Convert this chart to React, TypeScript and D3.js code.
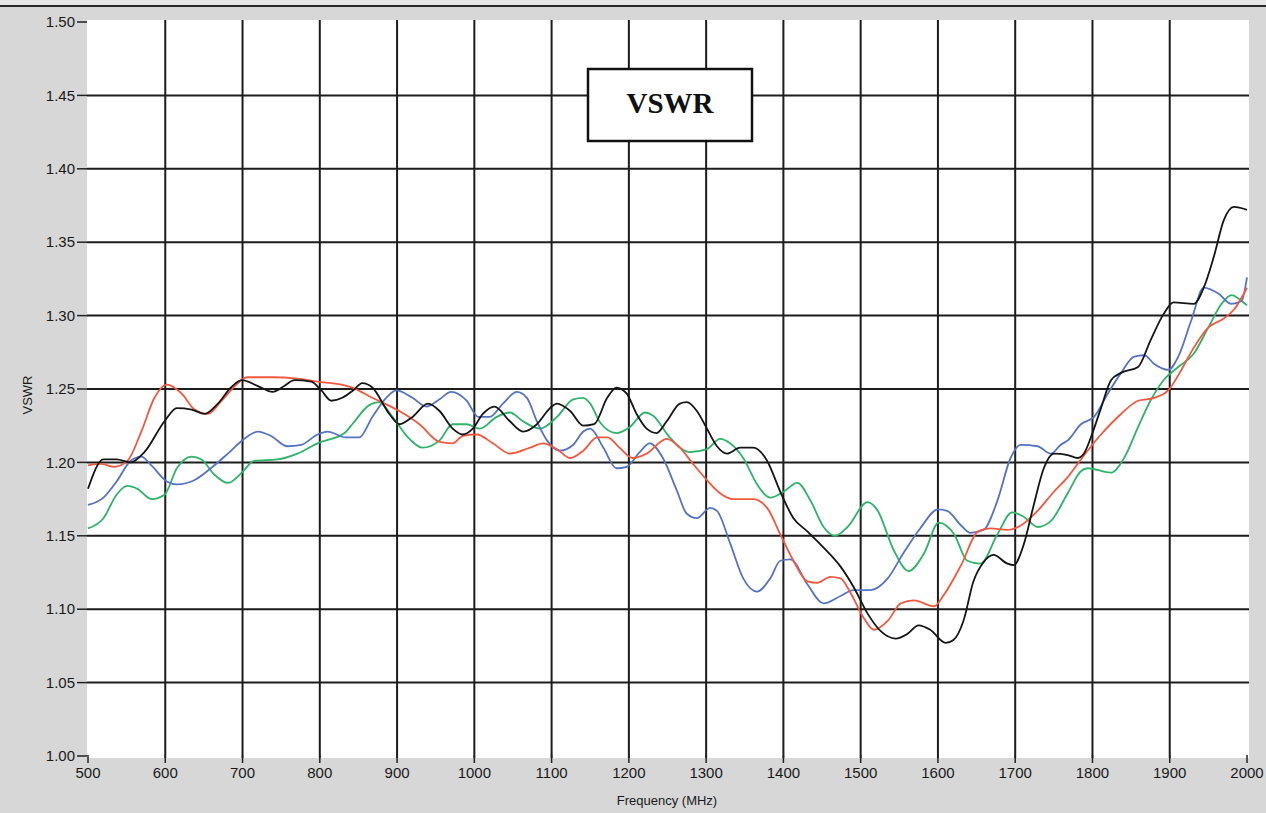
import React from "react";
import * as d3 from "d3";

const xTicks = [500, 600, 700, 800, 900, 1000, 1100, 1200, 1300, 1400, 1500, 1600, 1700, 1800, 1900, 2000];
const yTicks = [1.0, 1.05, 1.1, 1.15, 1.2, 1.25, 1.3, 1.35, 1.4, 1.45, 1.5];

const blackSeries: [number, number][] = [
  [500,1.182],[520,1.202],[537,1.202],[555,1.200],[573,1.207],[599,1.228],[615,1.237],[634,1.236],[651,1.233],[668,1.240],[685,1.251],[699,1.256],[720,1.252],[739,1.248],[754,1.252],[767,1.256],[789,1.255],[802,1.249],[815,1.242],[829,1.244],[843,1.249],[855,1.254],[868,1.251],[890,1.233],[903,1.226],[920,1.231],[940,1.240],[955,1.235],[972,1.223],[985,1.219],[998,1.223],[1011,1.233],[1026,1.238],[1046,1.228],[1063,1.221],[1081,1.226],[1098,1.237],[1107,1.240],[1124,1.235],[1141,1.225],[1155,1.226],[1172,1.244],[1184,1.251],[1197,1.247],[1210,1.233],[1223,1.223],[1236,1.220],[1249,1.228],[1266,1.240],[1275,1.241],[1288,1.235],[1301,1.223],[1314,1.211],[1327,1.206],[1344,1.210],[1361,1.210],[1379,1.201],[1396,1.180],[1413,1.162],[1431,1.153],[1452,1.142],[1474,1.129],[1491,1.115],[1509,1.097],[1526,1.085],[1545,1.080],[1560,1.083],[1575,1.089],[1590,1.086],[1610,1.077],[1620,1.079],[1633,1.092],[1646,1.119],[1659,1.132],[1672,1.137],[1690,1.131],[1698,1.130],[1711,1.144],[1724,1.171],[1737,1.196],[1750,1.206],[1768,1.205],[1781,1.203],[1789,1.206],[1800,1.220],[1811,1.237],[1824,1.256],[1837,1.261],[1859,1.265],[1875,1.283],[1892,1.301],[1905,1.309],[1931,1.308],[1944,1.319],[1957,1.340],[1970,1.365],[1983,1.374],[2000,1.372]
];

const redSeries: [number, number][] = [
  [500,1.198],[517,1.199],[534,1.197],[551,1.201],[569,1.221],[586,1.244],[602,1.253],[621,1.247],[638,1.236],[655,1.233],[673,1.242],[690,1.252],[706,1.258],[737,1.258],[771,1.257],[797,1.255],[828,1.253],[842,1.251],[868,1.244],[903,1.235],[929,1.226],[955,1.214],[972,1.213],[985,1.218],[1003,1.219],[1024,1.213],[1046,1.206],[1072,1.210],[1089,1.213],[1107,1.209],[1124,1.203],[1141,1.208],[1159,1.217],[1172,1.217],[1188,1.210],[1205,1.203],[1223,1.206],[1249,1.216],[1266,1.210],[1283,1.199],[1301,1.188],[1318,1.179],[1335,1.175],[1361,1.175],[1379,1.169],[1396,1.151],[1413,1.133],[1431,1.119],[1444,1.118],[1461,1.122],[1474,1.121],[1487,1.111],[1504,1.094],[1517,1.086],[1535,1.092],[1552,1.104],[1569,1.106],[1595,1.102],[1608,1.110],[1630,1.130],[1652,1.153],[1668,1.155],[1690,1.154],[1707,1.157],[1729,1.167],[1750,1.180],[1768,1.190],[1785,1.202],[1811,1.219],[1837,1.233],[1859,1.242],[1880,1.244],[1898,1.249],[1915,1.263],[1931,1.278],[1950,1.292],[1970,1.298],[1983,1.304],[2000,1.319]
];

const blueSeries: [number, number][] = [
  [500,1.171],[520,1.176],[537,1.187],[555,1.201],[569,1.204],[582,1.198],[602,1.187],[615,1.185],[638,1.188],[659,1.196],[681,1.206],[702,1.216],[720,1.221],[737,1.218],[758,1.211],[776,1.212],[797,1.219],[810,1.221],[834,1.217],[851,1.217],[868,1.231],[886,1.244],[899,1.249],[920,1.244],[938,1.238],[955,1.243],[970,1.248],[990,1.242],[1005,1.231],[1020,1.231],[1037,1.240],[1055,1.248],[1068,1.244],[1081,1.228],[1094,1.215],[1111,1.208],[1128,1.212],[1141,1.221],[1150,1.223],[1167,1.210],[1184,1.196],[1197,1.197],[1214,1.207],[1227,1.213],[1244,1.203],[1262,1.181],[1275,1.165],[1288,1.162],[1305,1.169],[1314,1.167],[1331,1.145],[1348,1.121],[1366,1.112],[1383,1.121],[1396,1.133],[1409,1.134],[1431,1.117],[1452,1.104],[1474,1.109],[1491,1.113],[1513,1.113],[1535,1.121],[1555,1.138],[1577,1.155],[1600,1.168],[1612,1.167],[1630,1.157],[1642,1.152],[1659,1.154],[1677,1.174],[1694,1.203],[1707,1.212],[1729,1.211],[1746,1.206],[1759,1.212],[1768,1.215],[1785,1.226],[1802,1.231],[1820,1.247],[1837,1.261],[1854,1.272],[1867,1.273],[1880,1.267],[1898,1.263],[1911,1.272],[1928,1.297],[1944,1.319],[1963,1.315],[1980,1.308],[1993,1.310],[2000,1.326]
];

const greenSeries: [number, number][] = [
  [500,1.155],[520,1.162],[537,1.178],[551,1.184],[564,1.182],[582,1.175],[599,1.178],[615,1.196],[634,1.204],[647,1.202],[663,1.192],[681,1.186],[699,1.193],[715,1.201],[745,1.202],[771,1.206],[797,1.213],[832,1.220],[842,1.226],[864,1.239],[877,1.241],[894,1.231],[916,1.216],[933,1.210],[955,1.215],[972,1.226],[990,1.226],[1007,1.223],[1029,1.231],[1046,1.234],[1063,1.228],[1085,1.223],[1107,1.231],[1128,1.243],[1141,1.244],[1150,1.240],[1163,1.227],[1184,1.220],[1201,1.224],[1221,1.234],[1231,1.232],[1253,1.217],[1279,1.207],[1301,1.209],[1318,1.216],[1331,1.213],[1348,1.203],[1366,1.185],[1383,1.176],[1400,1.180],[1418,1.186],[1435,1.174],[1452,1.156],[1467,1.150],[1483,1.156],[1509,1.173],[1521,1.168],[1543,1.140],[1562,1.126],[1582,1.138],[1601,1.159],[1621,1.151],[1638,1.133],[1655,1.131],[1677,1.151],[1696,1.166],[1711,1.163],[1729,1.156],[1746,1.160],[1768,1.179],[1785,1.194],[1794,1.196],[1824,1.193],[1841,1.203],[1859,1.224],[1875,1.242],[1892,1.256],[1911,1.265],[1931,1.274],[1950,1.292],[1967,1.308],[1980,1.314],[1993,1.310],[2000,1.307]
];

const seriesList = [
  { name: "green", data: greenSeries, color: "#2fb36a" },
  { name: "blue", data: blueSeries, color: "#5573c4" },
  { name: "red", data: redSeries, color: "#f2583e" },
  { name: "black", data: blackSeries, color: "#151515" },
];

const W = 1266;
const H = 813;

export default function App() {
  const x = d3.scaleLinear().domain([500, 2000]).range([88, 1247]);
  const y = d3.scaleLinear().domain([1.0, 1.5]).range([756, 22]);
  const line = d3
    .line<[number, number]>()
    .x((d) => x(d[0]))
    .y((d) => y(d[1]))
    .curve(d3.curveMonotoneX);

  const sans = "'Liberation Sans', Arial, sans-serif";

  return (
    <div style={{ position: "absolute", left: 0, top: 0, width: W, height: H }}>
      <svg width={W} height={H} viewBox={`0 0 ${W} ${H}`} style={{ display: "block" }}>
        <rect x={0} y={0} width={W} height={H} fill="#d7d7d7" />
        <rect x={0} y={0} width={W} height={5} fill="#e6e6e6" />
        <line x1={0} x2={W} y1={6} y2={6} stroke="#2a2a2a" strokeWidth={2} />
        {/* plot area */}
        <rect x={87} y={20} width={1162} height={738} fill="#ffffff" />
        {/* grid */}
        {xTicks.slice(1, -1).map((t) => (
          <line key={"gx" + t} x1={x(t)} x2={x(t)} y1={20} y2={758} stroke="#1c1c1c" strokeWidth={2} />
        ))}
        {yTicks.slice(1, -1).map((t) => (
          <line key={"gy" + t} x1={87} x2={1249} y1={y(t)} y2={y(t)} stroke="#1c1c1c" strokeWidth={2} />
        ))}
        {/* y ticks and labels */}
        {yTicks.map((t) => (
          <g key={"yt" + t}>
            <line x1={77} x2={87} y1={y(t)} y2={y(t)} stroke="#222" strokeWidth={1.5} />
            <text x={75} y={y(t)} dy="0.35em" textAnchor="end" fontFamily={sans} fontSize={15} fill="#1a1a1a">
              {t.toFixed(2)}
            </text>
          </g>
        ))}
        {/* x ticks and labels */}
        {xTicks.map((t) => (
          <g key={"xt" + t}>
            <line x1={x(t)} x2={x(t)} y1={755} y2={763} stroke="#222" strokeWidth={1.5} />
            <text x={x(t)} y={778} textAnchor="middle" fontFamily={sans} fontSize={15} fill="#1a1a1a">
              {t}
            </text>
          </g>
        ))}
        <text x={667} y={805} textAnchor="middle" fontFamily={sans} fontSize={13} fill="#1a1a1a">
          Frequency (MHz)
        </text>
        <text
          transform={`translate(32,${395}) rotate(-90)`}
          textAnchor="middle"
          fontFamily={sans}
          fontSize={13}
          fill="#1a1a1a"
        >
          VSWR
        </text>
        {/* series */}
        <g clipPath="url(#plotclip)">
          {seriesList.map((s) => (
            <path key={s.name} d={line(s.data) || ""} fill="none" stroke={s.color} strokeWidth={1.8} strokeLinejoin="round" />
          ))}
        </g>
        <defs>
          <clipPath id="plotclip">
            <rect x={87} y={20} width={1162} height={738} />
          </clipPath>
        </defs>
        {/* title box */}
        <rect x={588} y={69} width={164} height={72} fill="#ffffff" stroke="#111" strokeWidth={2.5} />
        <text
          x={670}
          y={113}
          textAnchor="middle"
          fontFamily="'Liberation Serif', 'Times New Roman', serif"
          fontWeight="bold"
          fontSize={29}
          fill="#111"
        >
          VSWR
        </text>
      </svg>
    </div>
  );
}
